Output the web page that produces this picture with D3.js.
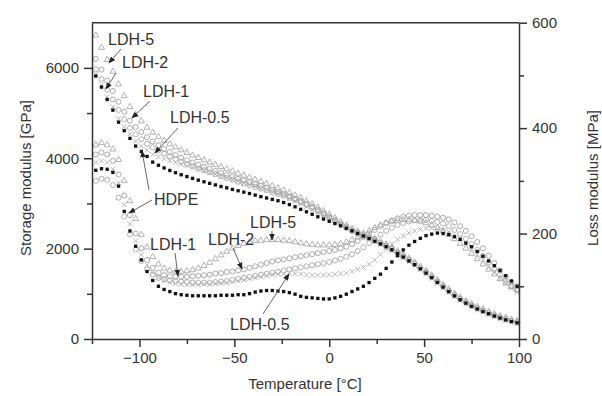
<!DOCTYPE html>
<html>
<head>
<meta charset="utf-8">
<script src="https://cdn.jsdelivr.net/npm/d3@7"></script>
<style>
  body { margin: 0; background: #fff; }
  text { font-family: "Liberation Sans", Arial, sans-serif; fill: #333; }
</style>
</head>
<body>
<svg id="chart"></svg>
<script>
// Temperature grid [°C]
const temps = [-123,-120,-117,-114,-111,-108,-105,-102,-99,-96,-93,-90,-87,-84,-81,-78,-75,-72,-69,-66,-63,-60,-57,-54,-51,-48,-45,-42,-39,-36,-33,-30,-27,-24,-21,-18,-15,-12,-9,-6,-3,0,3,6,9,12,15,18,21,24,27,30,33,36,39,42,45,48,51,54,57,60,63,66,69,72,75,78,81,84,87,90,93,96,99];

// Storage modulus (left axis)
const hdpeStorage = [5820,5575,5300,5065,4800,4610,4440,4270,4150,4040,3915,3845,3785,3730,3680,3635,3595,3555,3515,3480,3445,3410,3375,3345,3310,3280,3250,3220,3185,3150,3120,3090,3060,3020,2975,2925,2870,2815,2760,2705,2655,2605,2555,2505,2450,2395,2335,2280,2225,2165,2105,2045,1975,1895,1815,1730,1645,1555,1460,1360,1255,1150,1050,955,870,795,725,665,610,560,510,465,425,390,360];
const ldh05Storage = [5860,5625,5360,5135,4880,4700,4540,4380,4270,4180,4085,4035,3990,3945,3905,3870,3835,3800,3760,3720,3680,3640,3600,3565,3525,3490,3450,3415,3375,3330,3295,3255,3215,3170,3110,3050,2990,2925,2860,2800,2740,2680,2620,2560,2490,2425,2355,2290,2225,2155,2090,2025,1955,1875,1795,1710,1625,1535,1440,1340,1235,1130,1030,935,850,775,705,645,590,540,490,445,405,370,340];
const ldh1Storage = [5970,5750,5520,5300,5070,4860,4670,4530,4420,4320,4240,4175,4105,4040,3980,3925,3870,3825,3775,3735,3690,3650,3605,3565,3525,3480,3440,3405,3365,3330,3290,3250,3210,3170,3125,3080,3025,2965,2900,2830,2760,2685,2610,2535,2460,2390,2335,2280,2235,2175,2115,2055,1985,1905,1825,1740,1655,1565,1470,1370,1265,1160,1060,965,880,805,735,675,620,570,520,475,435,400,370];
const ldh2Storage = [6200,5960,5720,5490,5250,5030,4830,4690,4580,4465,4370,4285,4205,4135,4070,4010,3955,3905,3855,3810,3765,3720,3675,3630,3590,3545,3505,3465,3425,3385,3345,3300,3255,3210,3160,3110,3055,2995,2930,2858,2785,2707,2630,2553,2475,2402,2350,2298,2245,2185,2125,2065,1995,1915,1835,1750,1665,1575,1480,1380,1275,1170,1070,975,890,815,745,685,630,575,525,480,440,405,370];
const ldh5Storage = [6720,6450,6180,5920,5640,5380,5140,4960,4820,4680,4570,4475,4390,4315,4245,4180,4120,4065,4010,3960,3910,3860,3810,3760,3715,3665,3620,3575,3530,3485,3440,3390,3340,3290,3235,3180,3120,3055,2985,2910,2835,2755,2675,2595,2515,2440,2385,2330,2275,2215,2155,2095,2025,1945,1865,1780,1695,1605,1510,1410,1305,1200,1100,1005,920,845,775,715,660,605,555,510,470,435,400];

// Loss modulus (right axis)
const hdpeLoss = [320,323,322,316,290,242,205,176,150,128,111,100,94,90,86,84,83,82,82,82,82,82,83,83,83,84,84,86,89,91,92,92,91,90,88,85,81,79,78,77,76,76,78,81,85,90,95,100,107,115,123,134,146,158,169,178,185,191,196,199,201,200,198,194,189,182,175,166,157,148,139,130,120,110,100];
const ldh05Loss = [335,338,335,322,296,255,218,186,160,140,126,117,111,107,105,104,103,103,103,104,104,105,106,107,108,110,112,114,116,118,120,122,123,124,125,124,123,122,121,121,121,122,123,124,125,128,132,136,142,150,160,170,180,189,196,201,205,208,210,210,209,207,203,197,190,181,171,160,149,137,126,115,105,96,89];
const ldh1Loss = [300,304,302,292,268,232,198,170,148,132,122,116,113,111,110,109,108,107,107,107,107,108,109,110,112,114,116,118,120,122,124,126,128,130,132,134,136,138,140,142,144,146,149,152,156,161,167,174,182,190,198,205,211,216,220,223,225,226,226,224,222,219,214,207,199,190,180,169,158,146,134,122,111,101,93];
const ldh2Loss = [350,354,350,338,312,272,235,200,172,150,135,126,121,119,118,118,118,119,120,121,122,124,125,127,128,130,132,135,138,141,144,147,149,151,153,155,157,159,161,163,165,167,169,172,175,180,186,193,200,207,214,220,225,229,232,234,235,235,235,234,232,230,227,221,214,205,195,184,172,158,144,130,118,108,100];
const ldh5Loss = [368,372,368,360,340,300,262,228,198,174,156,142,134,130,128,128,129,131,134,139,145,152,159,166,172,177,181,184,186,187,188,188,188,187,186,184,182,180,179,178,178,178,179,181,184,188,193,199,205,211,216,220,223,225,226,226,225,223,220,216,211,205,198,190,181,172,162,152,142,132,123,114,106,99,93];

// Axis ticks
const xTicks = [-100, -50, 0, 50, 100];
const xMinor = [-125, -75, -25, 25, 75];
const yLeftTicks = [0, 2000, 4000, 6000];
const yLeftMinor = [1000, 3000, 5000];
const yRightTicks = [0, 200, 400, 600];
const yRightMinor = [100, 300, 500];

const width = 602, height = 396;
const svg = d3.select("#chart").attr("width", width).attr("height", height);

const x = d3.scaleLinear().domain([-125, 100]).range([92, 519]);
const yL = d3.scaleLinear().domain([0, 7000]).range([339, 22.7]);
const yR = d3.scaleLinear().domain([0, 600]).range([339, 22.7]);

const axisColor = "#333";
const fmt = d3.format("d");

// series styling
const series = [
  { name: "LDH-0.5", storage: ldh05Storage, loss: ldh05Loss, type: d3.symbolTimes, size: 18, fill: "none", stroke: "#b0b0b0" },
  { name: "LDH-1", storage: ldh1Storage, loss: ldh1Loss, type: d3.symbolCircle, size: 20, fill: "none", stroke: "#a8a8a8" },
  { name: "LDH-2", storage: ldh2Storage, loss: ldh2Loss, type: d3.symbolCircle, size: 20, fill: "none", stroke: "#a0a0a0" },
  { name: "LDH-5", storage: ldh5Storage, loss: ldh5Loss, type: d3.symbolTriangle2, size: 26, fill: "none", stroke: "#a8a8a8" },
  { name: "HDPE", storage: hdpeStorage, loss: hdpeLoss, type: d3.symbolSquare, size: 11, fill: "#111", stroke: "none" }
];

const plot = svg.append("g");
series.forEach(s => {
  const sym = d3.symbol().type(s.type).size(s.size)();
  [[s.storage, yL], [s.loss, yR]].forEach(([vals, ys]) => {
    plot.append("g")
      .selectAll("path")
      .data(temps.map((t, i) => [t, vals[i]]))
      .join("path")
      .attr("d", sym)
      .attr("transform", d => `translate(${x(d[0])},${ys(d[1])})`)
      .attr("fill", s.fill)
      .attr("stroke", s.stroke)
      .attr("stroke-width", 0.9);
  });
});

// Axes
function styleAxis(g) {
  g.selectAll("path, line").attr("stroke", axisColor).attr("stroke-width", 1.5);
  g.selectAll("text").attr("fill", axisColor).style("font-size", "15px")
    .style("font-family", '"Liberation Sans", Arial, sans-serif');
}

svg.append("g").attr("transform", "translate(0,339)")
  .call(d3.axisBottom(x).tickValues(xTicks).tickFormat(fmt).tickSize(8).tickPadding(5).tickSizeOuter(0))
  .call(styleAxis);
svg.append("g").attr("transform", "translate(0,339)")
  .call(d3.axisBottom(x).tickValues(xMinor).tickSize(5).tickFormat(""))
  .call(g => g.select(".domain").remove())
  .call(styleAxis);

svg.append("g").attr("transform", "translate(92,0)")
  .call(d3.axisLeft(yL).tickValues(yLeftTicks).tickFormat(fmt).tickSize(8).tickPadding(5).tickSizeOuter(0))
  .call(styleAxis);
svg.append("g").attr("transform", "translate(92,0)")
  .call(d3.axisLeft(yL).tickValues(yLeftMinor).tickSize(5).tickFormat(""))
  .call(g => g.select(".domain").remove())
  .call(styleAxis);

svg.append("g").attr("transform", "translate(519,0)")
  .call(d3.axisRight(yR).tickValues(yRightTicks).tickFormat(fmt).tickSize(8).tickPadding(5).tickSizeOuter(0))
  .call(styleAxis);
svg.append("g").attr("transform", "translate(519,0)")
  .call(d3.axisRight(yR).tickValues(yRightMinor).tickSize(5).tickFormat(""))
  .call(g => g.select(".domain").remove())
  .call(styleAxis);

// top frame line
svg.append("line")
  .attr("x1", 92).attr("x2", 519).attr("y1", 22.7).attr("y2", 22.7)
  .attr("stroke", axisColor).attr("stroke-width", 1.5);

// Axis titles
svg.append("text")
  .attr("x", 305).attr("y", 389).attr("text-anchor", "middle")
  .style("font-size", "15px").text("Temperature [°C]");
svg.append("text")
  .attr("transform", "translate(31,178) rotate(-90)").attr("text-anchor", "middle")
  .style("font-size", "15px").text("Storage modulus [GPa]");
svg.append("text")
  .attr("transform", "translate(598,178) rotate(-90)").attr("text-anchor", "middle")
  .style("font-size", "15px").text("Loss modulus [MPa]");

// Annotations
svg.append("defs").append("marker")
  .attr("id", "arrow").attr("viewBox", "0 0 10 10")
  .attr("refX", 9).attr("refY", 5)
  .attr("markerWidth", 7).attr("markerHeight", 7)
  .attr("markerUnits", "userSpaceOnUse")
  .attr("orient", "auto")
  .append("path").attr("d", "M0,1 L10,5 L0,9 Z").attr("fill", "#222");

const labels = [
  { text: "LDH-5", x: 108, y: 45, arrows: [[121, 49, 109, 63]] },
  { text: "LDH-2", x: 122, y: 68, arrows: [[116, 73, 106, 89]] },
  { text: "LDH-1", x: 143, y: 97, arrows: [[150, 101, 132, 118]] },
  { text: "LDH-0.5", x: 170, y: 123, arrows: [[178, 128, 155, 153]] },
  { text: "HDPE", x: 154, y: 205, arrows: [[149, 190, 142, 151], [152, 200, 129, 213]] },
  { text: "LDH-1", x: 150, y: 250, arrows: [[175, 253, 178, 276]] },
  { text: "LDH-2", x: 208, y: 245, arrows: [[233, 248, 242, 269]] },
  { text: "LDH-5", x: 250, y: 228, arrows: [[272, 231, 272, 240]] },
  { text: "LDH-0.5", x: 230, y: 330, arrows: [[263, 314, 289, 274]] }
];

const ann = svg.append("g");
labels.forEach(l => {
  ann.append("text").attr("x", l.x).attr("y", l.y)
    .style("font-size", "16px").text(l.text);
  l.arrows.forEach(a => {
    ann.append("line")
      .attr("x1", a[0]).attr("y1", a[1]).attr("x2", a[2]).attr("y2", a[3])
      .attr("stroke", "#555").attr("stroke-width", 0.9)
      .attr("marker-end", "url(#arrow)");
  });
});
</script>
</body>
</html>
